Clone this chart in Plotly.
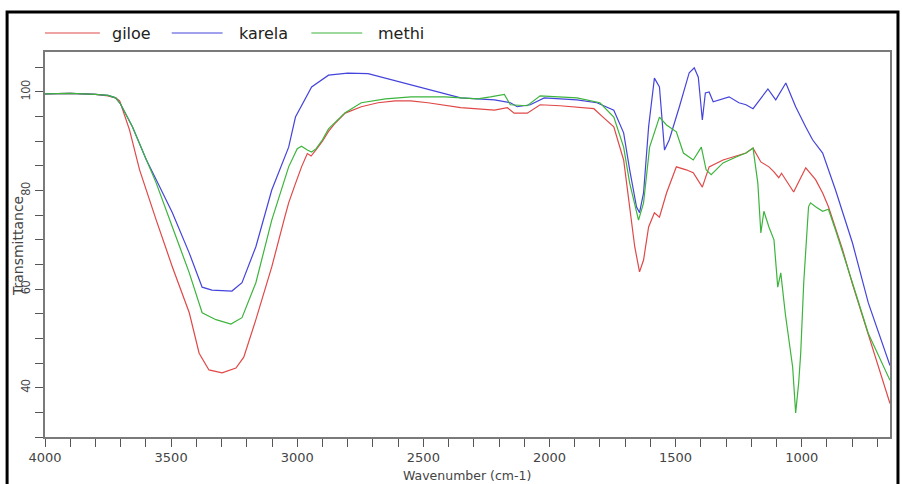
import plotly.graph_objects as go

# ---------------- data ----------------
giloe_wn = [4000, 3900, 3800, 3750, 3720, 3704, 3665, 3625, 3559, 3495, 3428, 3389, 3350,
            3298, 3243, 3212, 3164, 3101, 3050, 3034, 3010, 2983, 2960, 2945, 2925, 2900,
            2876, 2849, 2810, 2746, 2680, 2612, 2550, 2482, 2352, 2218, 2167, 2140, 2088,
            2037, 1958, 1824, 1790, 1745, 1706, 1682, 1662, 1643, 1627, 1607, 1584, 1564,
            1536, 1497, 1458, 1430, 1394, 1367, 1312, 1260, 1221, 1193, 1162, 1130, 1110,
            1091, 1080, 1032, 984, 945, 917, 894, 866, 838, 800, 720, 650]
giloe_t = [99.6, 99.7, 99.5, 99.2, 98.8, 98.2, 92.3, 84.2, 74.0, 64.5, 55.2, 47.0, 43.6,
           43.0, 44.0, 46.2, 53.8, 64.5, 74.5, 77.5, 81.0, 84.8, 87.5, 87.0, 88.3, 90.0,
           92.0, 93.7, 95.7, 97.0, 97.8, 98.2, 98.2, 97.8, 96.8, 96.3, 96.8, 95.7, 95.7,
           97.4, 97.2, 96.6, 95.0, 92.9, 86.2, 76.1, 68.6, 63.5, 65.9, 72.6, 75.5, 74.6,
           79.5, 84.8, 84.2, 83.6, 80.7, 84.8, 86.2, 87.0, 87.6, 88.6, 85.8, 84.8, 83.8,
           82.6, 83.5, 79.7, 84.6, 82.2, 79.5, 76.7, 72.2, 68.0, 61.2, 48.0, 36.8]

karela_wn = [4000, 3900, 3800, 3750, 3720, 3700, 3653, 3598, 3559, 3495, 3428, 3377, 3338,
             3259, 3219, 3164, 3101, 3074, 3034, 3007, 2943, 2876, 2800, 2719, 2652, 2482,
             2352, 2218, 2155, 2128, 2076, 2021, 1891, 1812, 1745, 1706, 1682, 1655, 1643,
             1627, 1607, 1584, 1564, 1544, 1525, 1485, 1446, 1426, 1410, 1394, 1382, 1367,
             1351, 1288, 1249, 1221, 1193, 1134, 1103, 1063, 1024, 984, 957, 917, 866, 799,
             736, 650]
karela_t = [99.6, 99.7, 99.5, 99.3, 98.8, 97.5, 92.9, 86.2, 82.2, 75.5, 67.3, 60.4, 59.8,
            59.6, 61.3, 68.6, 80.1, 83.6, 88.8, 94.9, 101.0, 103.4, 103.8, 103.7, 102.8, 100.4,
            98.8, 98.4, 97.8, 97.0, 97.4, 98.8, 98.4, 97.8, 96.3, 91.7, 84.2, 76.7, 75.5,
            79.5, 92.9, 102.8, 101.0, 88.2, 90.3, 97.0, 103.9, 104.9, 103.0, 94.3, 99.8, 100.0,
            98.0, 99.0, 97.8, 97.4, 96.6, 100.6, 98.4, 101.8, 97.0, 92.9, 90.3, 87.6, 80.1, 69.4,
            57.2, 44.5]

methi_wn = [4000, 3900, 3800, 3750, 3720, 3700, 3653, 3598, 3559, 3495, 3428, 3377, 3322,
            3263, 3219, 3164, 3101, 3034, 3000, 2983, 2960, 2943, 2925, 2900, 2876, 2810,
            2746, 2650, 2549, 2415, 2285, 2234, 2179, 2155, 2088, 2037, 1958, 1891, 1800,
            1745, 1706, 1682, 1647, 1627, 1603, 1564, 1536, 1497, 1469, 1430, 1398, 1379,
            1359, 1312, 1260, 1221, 1193, 1174, 1162, 1150, 1130, 1110, 1095, 1083, 1065,
            1036, 1024, 1012, 1004, 992, 973, 965, 945, 917, 894, 866, 799, 736, 650]
methi_t = [99.6, 99.7, 99.5, 99.3, 98.8, 97.5, 92.9, 86.2, 81.5, 72.6, 63.3, 55.2, 53.8,
           52.9, 54.2, 61.3, 74.0, 84.8, 88.5, 89.0, 88.2, 87.8, 88.5, 90.3, 92.5, 95.8,
           97.8, 98.6, 99.0, 99.0, 98.6, 99.0, 99.5, 97.4, 97.2, 99.2, 99.0, 98.8, 97.8,
           94.9, 88.8, 81.5, 74.0, 77.5, 88.8, 94.9, 93.3, 91.9, 87.6, 86.2, 88.8, 84.2,
           83.2, 85.6, 86.8, 87.6, 88.6, 81.5, 71.4, 75.8, 72.6, 70.0, 60.4, 63.3, 55.0,
           44.2, 34.9, 41.0, 47.0, 61.3, 76.7, 77.5, 76.7, 75.8, 76.2, 72.0, 61.3, 51.0, 41.5]

series_names = ["giloe", "karela", "methi"]
x_ticks = [4000, 3500, 3000, 2500, 2000, 1500, 1000]
y_ticks = [40, 60, 80, 100]

# ---------------- layout helpers ----------------
W, H = 902, 484
L, R, T, B = 45, 892, 52, 437


def pxx(p):
    return (p - L) / (R - L)


def pxy(p):
    return (B - p) / (B - T)


colors = ["#e04848", "#4444dc", "#3cb43c"]
data = [(giloe_wn, giloe_t), (karela_wn, karela_t), (methi_wn, methi_t)]

fig = go.Figure()
for name, (wn, tr), c in zip(series_names, data, colors):
    fig.add_trace(go.Scatter(x=wn, y=tr, mode="lines", name=name,
                             line=dict(color=c, width=1.2), showlegend=False))

axis_common = dict(showline=True, linecolor="#7a7a7a", linewidth=1.5, mirror=True,
                   showgrid=False, zeroline=False, ticks="outside", ticklen=8,
                   tickcolor="#555", tickwidth=1)

fig.update_xaxes(range=[4000, 650], tickvals=x_ticks, ticktext=[str(v) for v in x_ticks],
                 minor=dict(dtick=100, tick0=0, ticks="outside", ticklen=8,
                            tickcolor="#555", tickwidth=1),
                 tickfont=dict(family="DejaVu Sans", size=13, color="#444"),
                 **axis_common)
fig.update_yaxes(range=[30, 108.1], tickvals=y_ticks, ticktext=[str(v) for v in y_ticks],
                 tickangle=-90,
                 minor=dict(dtick=5, tick0=0, ticks="outside", ticklen=8,
                            tickcolor="#555", tickwidth=1),
                 tickfont=dict(family="Liberation Sans", size=12, color="#444"),
                 **axis_common)

shapes = [
    # outer black frame
    dict(type="rect", xref="paper", yref="paper",
         x0=pxx(7), x1=pxx(900), y0=pxy(492), y1=pxy(12),
         line=dict(color="black", width=3), fillcolor="rgba(0,0,0,0)", layer="above"),
]
annotations = [
    dict(text="Transmittance", xref="paper", yref="paper", x=pxx(18), y=pxy(246),
         textangle=-90, showarrow=False, xanchor="center", yanchor="middle",
         font=dict(family="DejaVu Sans", size=14, color="#444")),
    dict(text="Wavenumber (cm-1)", xref="paper", yref="paper", x=pxx(468), y=pxy(475),
         showarrow=False, xanchor="center", yanchor="middle",
         font=dict(family="DejaVu Sans", size=12.5, color="#444")),
]

# manual legend
leg = [(45, 100, 110), (172, 223, 237), (312, 363, 377)]
for (a, b, tx), name, c in zip(leg, series_names, colors):
    shapes.append(dict(type="line", xref="paper", yref="paper", x0=pxx(a), x1=pxx(b),
                       y0=pxy(33), y1=pxy(33), line=dict(color=c, width=1.2)))
    annotations.append(dict(text=name, xref="paper", yref="paper", x=pxx(tx), y=pxy(33),
                            showarrow=False, xanchor="left", yanchor="middle",
                            font=dict(family="DejaVu Sans", size=16, color="#222")))

fig.update_layout(width=W, height=H, margin=dict(l=L, r=W - R, t=T, b=H - B),
                  paper_bgcolor="white", plot_bgcolor="white", showlegend=False,
                  shapes=shapes, annotations=annotations)

fig.write_html("out.html", config={"displayModeBar": False},
               post_script="document.body.style.margin='0';document.body.style.overflow='hidden';")
